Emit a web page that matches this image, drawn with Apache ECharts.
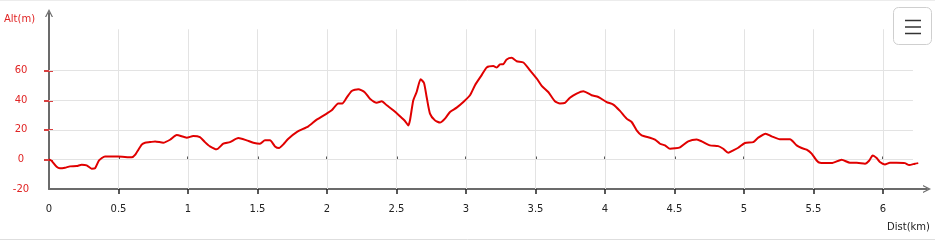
<!DOCTYPE html>
<html><head><meta charset="utf-8">
<script src="https://cdn.jsdelivr.net/npm/echarts@6/dist/echarts.min.js"></script>
<style>html,body{margin:0;padding:0;background:#fff}#c{width:935px;height:243px}</style>
</head><body><div id="c"></div>
<script>
const dist = [0,0.019,0.055,0.079,0.115,0.151,0.199,0.235,0.271,0.307,0.331,0.36,0.403,0.496,0.595,0.619,0.667,0.691,0.727,0.763,0.822,0.871,0.919,0.991,1.038,1.086,1.122,1.158,1.206,1.254,1.302,1.362,1.422,1.47,1.518,1.554,1.59,1.626,1.655,1.686,1.722,1.782,1.866,1.926,1.998,2.034,2.081,2.11,2.142,2.178,2.225,2.273,2.309,2.358,2.394,2.43,2.477,2.525,2.561,2.585,2.597,2.621,2.645,2.674,2.698,2.717,2.741,2.777,2.813,2.849,2.885,2.933,2.981,3.029,3.065,3.113,3.149,3.197,3.221,3.245,3.269,3.293,3.329,3.365,3.413,3.46,3.509,3.545,3.592,3.64,3.676,3.712,3.748,3.796,3.844,3.904,3.952,4.012,4.06,4.108,4.156,4.192,4.228,4.264,4.324,4.36,4.396,4.432,4.468,4.504,4.54,4.599,4.66,4.696,4.755,4.815,4.851,4.887,4.923,4.959,5.007,5.067,5.103,5.156,5.199,5.259,5.331,5.379,5.415,5.451,5.487,5.523,5.547,5.631,5.703,5.763,5.811,5.871,5.902,5.926,5.955,5.978,6.014,6.05,6.098,6.158,6.189,6.23,6.254];
const alt = [0,-1,-5,-6,-5.6,-4.7,-4.5,-3.6,-4,-6.3,-6,-0.7,2,2,1.4,3,10,11.3,11.7,12.2,11.3,13.3,16.5,14.7,15.8,15.1,11.7,8.8,6.8,10.6,11.7,14.5,12.9,11.3,10.6,12.9,12.9,8.8,7.7,10.2,14,18.5,22.4,26.9,31,33.2,37.8,37.8,41.8,46.3,47.5,45.3,41.1,38.4,39.3,36.6,33.2,29.2,26,23,26.4,40,45.6,54.2,51.7,42.2,31,26.4,24.9,27.6,32.1,35,38.8,43.4,50.2,57,62.2,63.1,62.2,64.2,64.4,67.6,68.7,66.4,65.5,60.3,54.7,49.7,45.6,39.3,37.8,38.2,41.7,44.5,46.1,43.4,42.2,38.8,37.1,32.8,27.6,25.3,19.7,16.3,14.7,13.4,10.6,9.5,7.2,7.5,8.2,12.2,13.4,12.2,9.5,9,7.2,4.5,6.1,7.9,11.1,11.7,14.7,17.4,15.6,13.6,13.6,9.5,7.7,6.6,3.9,-0.7,-2.3,-2.5,-0.2,-2.3,-2.3,-2.9,-0.7,2.7,0.9,-1.8,-3.4,-2.3,-2.3,-2.5,-3.8,-2.9,-2.5];
const xTickLabels = [0,0.5,1,1.5,2,2.5,3,3.5,4,4.5,5,5.5,6];
const xGridValues = [0.5,1,1.5,2,2.5,3,3.5,4,4.5,5,5.5,6];
const yTickLabels = [-20,0,20,40,60];
const yGridValues = [0,20,40,60];
const xName = 'Dist(km)';
const yName = 'Alt(m)';
const X_MIN = 0, X_MAX = 6.317, Y_MIN = -20, Y_MAX = 99;
const PLOT_X_END = 6.216, PLOT_Y_END = 88;

const FONT = 'DejaVu Sans';
const chevron = 'path://M0,10 L5,0 L10,10 L8.4,10 L5,3.2 L1.6,10 Z';

const gridLines = [];
yGridValues.forEach(v => gridLines.push([{coord:[X_MIN, v]}, {coord:[PLOT_X_END, v]}]));
xGridValues.forEach(v => gridLines.push([{coord:[v, Y_MIN]}, {coord:[v, PLOT_Y_END]}]));

const chart = echarts.init(document.getElementById('c'), null, {renderer:'canvas'});
chart.setOption({
  animation: false,
  backgroundColor: '#fff',
  grid: {left: 49, right: 8, top: 13, bottom: 54, containLabel: false},
  xAxis: [{
    type: 'value', min: X_MIN, max: X_MAX, interval: 0.5,
    axisLine: {show: true, onZero: false, lineStyle: {color: '#6b6b6b', width: 2}, symbol: ['none', chevron], symbolSize: [10, 8]},
    axisTick: {show: true, length: 5, customValues: xGridValues, lineStyle: {color: '#222', width: 1.5}},
    axisLabel: {customValues: xTickLabels, color: '#222', fontSize: 10, fontFamily: FONT, margin: 15},
    splitLine: {show: false}
  }, {
    type: 'value', min: X_MIN, max: X_MAX, interval: 0.5, position: 'bottom', offset: 0,
    axisLine: {show: false},
    axisTick: {show: true, inside: true, length: 3, customValues: xGridValues, lineStyle: {color: '#222', width: 1.5}},
    axisLabel: {show: false},
    splitLine: {show: false}
  }],
  yAxis: [{
    type: 'value', min: Y_MIN, max: Y_MAX, interval: 20,
    axisLine: {show: true, onZero: false, lineStyle: {color: '#6b6b6b', width: 2}, symbol: ['none', chevron], symbolSize: [10, 8]},
    axisTick: {show: true, length: 5, customValues: yGridValues, lineStyle: {color: '#d94040', width: 2}},
    axisLabel: {customValues: yTickLabels, color: '#e02424', fontSize: 10, fontFamily: FONT, margin: 28, align: 'center'},
    splitLine: {show: false}
  }, {
    type: 'value', min: Y_MIN, max: Y_MAX, interval: 20, position: 'left', offset: 0,
    axisLine: {show: false},
    axisTick: {show: true, inside: true, length: 4, customValues: yGridValues, lineStyle: {color: '#d94040', width: 2}},
    axisLabel: {show: false},
    splitLine: {show: false}
  }],
  series: [{
    type: 'line', name: 'grid', z: 1, silent: true,
    data: [[X_MIN, Y_MIN]], symbol: 'none', lineStyle: {opacity: 0},
    markLine: {silent: true, z: 1, symbol: ['none', 'none'], label: {show: false}, animation: false,
      lineStyle: {color: '#e3e3e3', width: 1, type: 'solid'}, emphasis: {disabled: true}, data: gridLines}
  }, {
    type: 'line', name: 'Altitude', z: 10,
    data: dist.map((d, i) => [d, alt[i]]),
    symbol: 'none', smooth: 0.2,
    lineStyle: {color: '#e00000', width: 2}
  }],
  graphic: [
    {type: 'text', left: 4, top: 14, style: {text: yName, fill: '#e02424', font: '10px "DejaVu Sans"'}},
    {type: 'text', right: 5, top: 222, style: {text: xName, fill: '#222', font: '10px "DejaVu Sans"'}},
    {type: 'rect', shape: {x: 893.5, y: 7.5, width: 38, height: 37, r: 5}, style: {fill: '#fff', stroke: '#cfcfcf', lineWidth: 1}},
    {type: 'line', shape: {x1: 905, y1: 20.5, x2: 921, y2: 20.5}, style: {stroke: '#333', lineWidth: 1.5}},
    {type: 'line', shape: {x1: 905, y1: 27, x2: 921, y2: 27}, style: {stroke: '#333', lineWidth: 1.5}},
    {type: 'line', shape: {x1: 905, y1: 33.5, x2: 921, y2: 33.5}, style: {stroke: '#333', lineWidth: 1.5}},
    {type: 'line', shape: {x1: 0, y1: 239.5, x2: 935, y2: 239.5}, style: {stroke: '#dedede', lineWidth: 1}},
    {type: 'line', shape: {x1: 0, y1: 0.5, x2: 935, y2: 0.5}, style: {stroke: '#ececec', lineWidth: 1}}
  ]
});
</script>
</body></html>
